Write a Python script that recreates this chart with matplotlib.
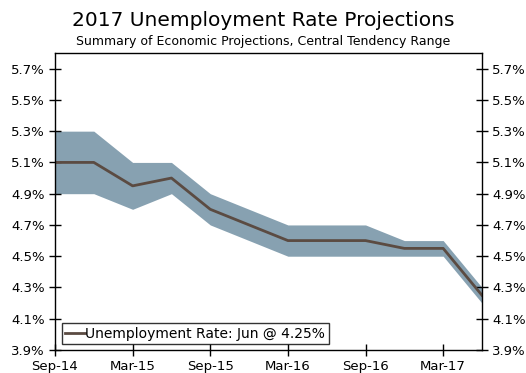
import matplotlib.pyplot as plt
from matplotlib.ticker import FuncFormatter

quarters = ["Sep-14", "Dec-14", "Mar-15", "Jun-15", "Sep-15", "Dec-15",
            "Mar-16", "Jun-16", "Sep-16", "Dec-16", "Mar-17", "Jun-17"]
midpoint = [5.10, 5.10, 4.95, 5.00, 4.80, 4.70, 4.60, 4.60, 4.60, 4.55, 4.55, 4.25]
range_low = [4.90, 4.90, 4.80, 4.90, 4.70, 4.60, 4.50, 4.50, 4.50, 4.50, 4.50, 4.20]
range_high = [5.30, 5.30, 5.10, 5.10, 4.90, 4.80, 4.70, 4.70, 4.70, 4.60, 4.60, 4.30]
y_ticks = [3.9, 4.1, 4.3, 4.5, 4.7, 4.9, 5.1, 5.3, 5.5, 5.7]

x = list(range(len(quarters)))

fig = plt.figure(figsize=(5.26, 3.73), dpi=100)
ax = fig.add_axes([55 / 526, 1 - 350 / 373, 427 / 526, 297 / 373])

ax.fill_between(x, range_low, range_high, color="#87a1b1", linewidth=0)
ax.plot(x, midpoint, color="#5b4b42", linewidth=2,
        label="Unemployment Rate: Jun @ 4.25%")

ax.set_xlim(0, len(quarters) - 1)
ax.set_ylim(3.9, 5.8)
ax.set_xticks(x[::2])
ax.set_xticklabels(quarters[::2])
ax.set_yticks(y_ticks)
ax.yaxis.set_major_formatter(FuncFormatter(lambda v, p: f"{v:.1f}%"))
ax.tick_params(axis="both", direction="inout", length=8, width=1,
               labelsize=9.5, colors="black")
ax.tick_params(axis="y", right=True, labelright=True)
for s in ax.spines.values():
    s.set_linewidth(1)
    s.set_color("black")

leg = ax.legend(loc="lower left", bbox_to_anchor=(0.016, 0.02), fontsize=10,
                frameon=True, fancybox=False, borderpad=0.25,
                handlelength=1.4, handletextpad=0.05, borderaxespad=0)
leg.get_frame().set_edgecolor("black")
leg.get_frame().set_linewidth(1)

fig.text(0.5, 0.945, "2017 Unemployment Rate Projections", ha="center",
         va="center", fontsize=14.5)
fig.text(0.5, 0.888, "Summary of Economic Projections, Central Tendency Range",
         ha="center", va="center", fontsize=9)

fig.savefig("out.png", dpi=100)
